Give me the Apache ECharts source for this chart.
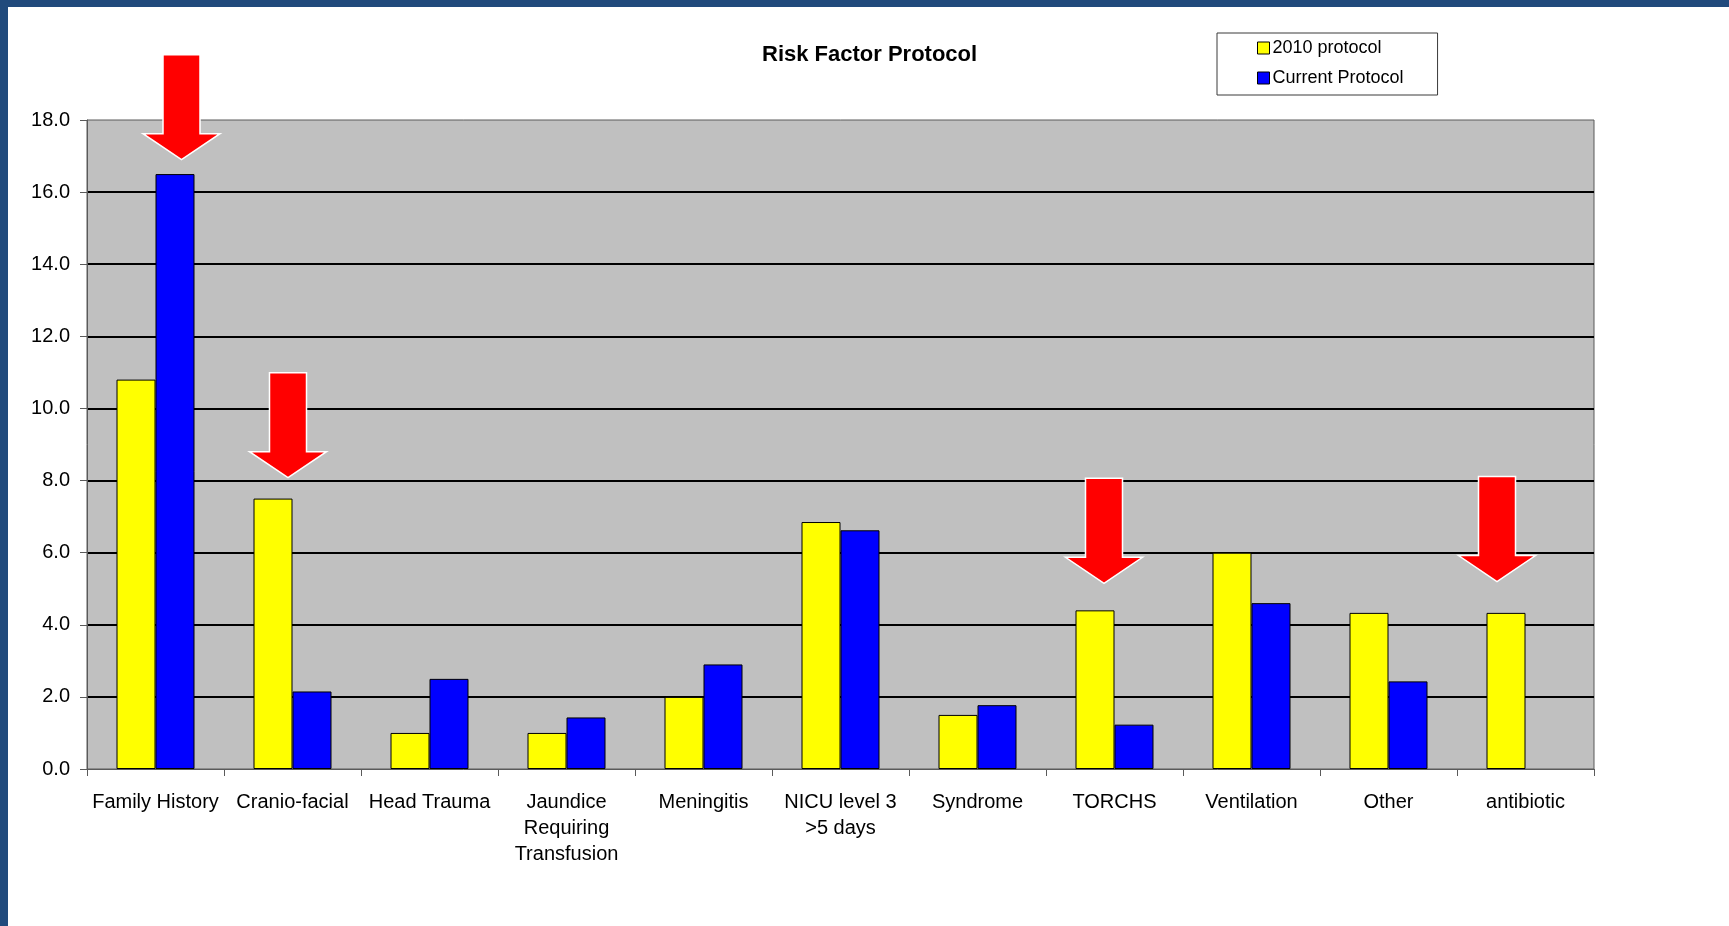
<!DOCTYPE html>
<html>
<head>
<meta charset="utf-8">
<title>Risk Factor Protocol</title>
<script src="https://cdn.jsdelivr.net/npm/echarts@6/dist/echarts.min.js"></script>
<style>
  html, body { margin: 0; padding: 0; background: #ffffff; }
  #chart { width: 1729px; height: 926px; }
</style>
</head>
<body>
<div id="chart"></div>
<script>
// Risk factor categories (x axis)
const categories = [
  'Family History', 'Cranio-facial', 'Head Trauma', 'Jaundice\nRequiring\nTransfusion',
  'Meningitis', 'NICU level 3\n>5 days', 'Syndrome', 'TORCHS', 'Ventilation', 'Other', 'antibiotic'
];

// Percentages for each protocol
const protocol2010 = [10.8, 7.5, 1.0, 1.0, 2.0, 6.85, 1.5, 4.4, 6.0, 4.33, 4.33];
const currentProtocol = [16.5, 2.15, 2.5, 1.43, 2.9, 6.62, 1.77, 1.23, 4.6, 2.43, null];

// Y axis range and tick step
const yMin = 0;
const yMax = 18;
const yStep = 2;

// Highlight arrows: category, and the value the arrow tip points down to
const arrowCategories = ['Family History', 'Cranio-facial', 'TORCHS', 'antibiotic'];
const arrowTipValues = [16.9, 8.08, 5.15, 5.2];

const chart = echarts.init(document.getElementById('chart'), null, { renderer: 'canvas' });

const FONT = '"Liberation Sans", Arial, sans-serif';

const option = {
  backgroundColor: '#ffffff',
  animation: false,
  title: {
    text: 'Risk Factor Protocol',
    left: 757,
    top: 39,
    textStyle: { fontFamily: FONT, fontSize: 22, fontWeight: 'bold', color: '#000000' }
  },
  legend: {
    orient: 'vertical',
    left: 1217,
    top: 33,
    padding: [6, 34, 8, 40],
    icon: 'rect',
    itemWidth: 12,
    itemHeight: 12,
    itemGap: 12,
    borderColor: '#3a3a3a',
    borderWidth: 1,
    backgroundColor: '#ffffff',
    textStyle: { fontFamily: FONT, fontSize: 18, color: '#000000', padding: [0, 0, 0, -2] },
    data: [
      { name: '2010 protocol', itemStyle: { color: '#ffff00', borderColor: '#000', borderWidth: 1 } },
      { name: 'Current Protocol', itemStyle: { color: '#0000ff', borderColor: '#000', borderWidth: 1 } }
    ]
  },
  grid: {
    left: 87,
    top: 120,
    right: 135,
    bottom: 157,
    show: true,
    backgroundColor: '#c0c0c0',
    borderColor: '#5a5a5a',
    borderWidth: 1
  },
  xAxis: {
    type: 'category',
    data: categories,
    boundaryGap: true,
    axisLine: { show: true, lineStyle: { color: '#5a5a5a', width: 1 } },
    axisTick: { show: true, length: 7, lineStyle: { color: '#5a5a5a' } },
    axisLabel: {
      interval: 0,
      margin: 20,
      fontFamily: FONT,
      fontSize: 20,
      lineHeight: 26,
      color: '#000000',
      align: 'center'
    },
    splitLine: { show: false }
  },
  yAxis: {
    type: 'value',
    min: yMin,
    max: yMax,
    interval: yStep,
    axisLine: { show: true, lineStyle: { color: '#5a5a5a', width: 1 } },
    axisTick: { show: true, length: 7, lineStyle: { color: '#5a5a5a' } },
    axisLabel: {
      margin: 17,
      fontFamily: FONT,
      fontSize: 20,
      color: '#000000',
      formatter: v => v.toFixed(1)
    },
    splitLine: {
      show: true,
      showMinLine: false,
      showMaxLine: false,
      lineStyle: { color: '#000000', width: 2 }
    }
  },
  series: [
    {
      name: '2010 protocol',
      type: 'bar',
      data: protocol2010,
      barWidth: 39,
      barGap: '0%',
      itemStyle: { color: '#ffff00', borderColor: '#000000', borderWidth: 1 }
    },
    {
      name: 'Current Protocol',
      type: 'bar',
      data: currentProtocol,
      barWidth: 39,
      barGap: '0%',
      itemStyle: { color: '#0000ff', borderColor: '#000000', borderWidth: 1 }
    }
  ]
};

chart.setOption(option);

// Horizontal nudge of each arrow from its category centre (px)
const arrowShift = [26, -4.5, -10.5, -28.5];

// Down-pointing block arrow with its tip at (x, y)
function arrowShape(x, y) {
  const shaftHalf = 18.5, headHalf = 38.5, headH = 26, totalH = 105;
  return [
    [x - shaftHalf, y - totalH],
    [x + shaftHalf, y - totalH],
    [x + shaftHalf, y - headH],
    [x + headHalf, y - headH],
    [x, y],
    [x - headHalf, y - headH],
    [x - shaftHalf, y - headH]
  ];
}

const arrowElements = arrowCategories.map((cat, i) => {
  const p = chart.convertToPixel({ gridIndex: 0 }, [categories.indexOf(cat), arrowTipValues[i]]);
  return {
    type: 'polygon',
    z: 100,
    shape: { points: arrowShape(p[0] + arrowShift[i], p[1]) },
    style: { fill: '#ff0000', stroke: '#ffffff', lineWidth: 1.5 }
  };
});

// Slide frame: dark blue band along the top and left edges
const frameElements = [
  { type: 'rect', z: 200, shape: { x: 0, y: 0, width: 1729, height: 7 }, style: { fill: '#214a7c' } },
  { type: 'rect', z: 200, shape: { x: 0, y: 0, width: 8, height: 926 }, style: { fill: '#214a7c' } }
];

chart.setOption({ graphic: arrowElements.concat(frameElements) });
</script>
</body>
</html>
